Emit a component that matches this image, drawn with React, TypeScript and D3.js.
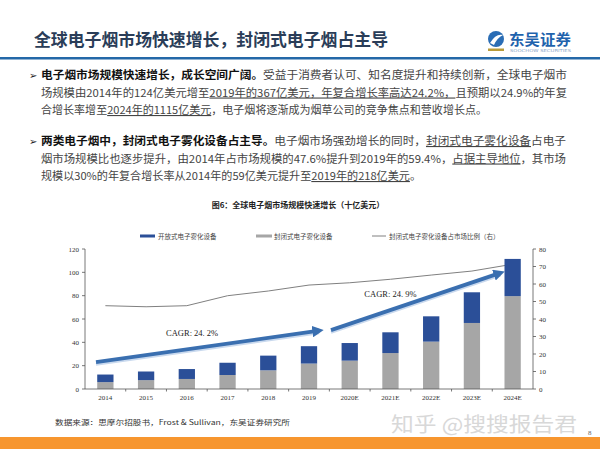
import React from "react";
import * as d3 from "d3";

// chart data (十亿美元 / %)
const years = ["2014", "2015", "2016", "2017", "2018", "2019", "2020E", "2021E", "2022E", "2023E", "2024E"];
const closedVals = [5.9, 7.6, 8.6, 12.0, 16.0, 21.8, 24.3, 30.8, 40.6, 56.6, 79.6];
const openVals = [6.5, 7.4, 8.5, 10.5, 12.6, 14.9, 15.1, 17.8, 21.7, 26.3, 31.9];
const closedShare = [47.6, 47.0, 47.6, 53.3, 56.0, 59.4, 60.7, 62.7, 65.1, 67.4, 71.3];
const leftTicks = [0, 20, 40, 60, 80, 100, 120];
const rightTicks = [0, 10, 20, 30, 40, 50, 60, 70, 80];
const legendLabels = ["开放式电子雾化设备", "封闭式电子雾化设备", "封闭式电子雾化设备占市场比例（右）"];

// CAGR arrows, in (category index, left-axis value)
const cagrArrows = [
  { label: "CAGR: 24. 2%", from: [-0.23, 23], to: [5.25, 50], at: [2.13, 48] },
  { label: "CAGR: 24. 9%", from: [5.54, 50.5], to: [9.7, 99.5], at: [7.0, 81.5] },
];

const CJK = "'Noto Sans CJK SC', sans-serif";
const SERIF = "'Liberation Serif', serif";

type Seg = { t: string; b?: boolean; u?: boolean };
type Line = { segs: Seg[]; len?: number };

const para1: Line[] = [
  { segs: [{ t: "电子烟市场规模快速增长，成长空间广阔。", b: true }, { t: "受益于消费者认可、知名度提升和持续创新，全球电子烟市" }], len: 526 },
  { segs: [{ t: "场规模由2014年的124亿美元增至" }, { t: "2019年的367亿美元，年复合增长率高达24.2%，", u: true }, { t: "且预期以24.9%的年复" }], len: 526 },
  { segs: [{ t: "合增长率增至" }, { t: "2024年的1115亿美元", u: true }, { t: "，电子烟将逐渐成为烟草公司的竞争焦点和营收增长点。" }], len: 446 },
];
const para2: Line[] = [
  { segs: [{ t: "两类电子烟中，封闭式电子雾化设备占主导。", b: true }, { t: "电子烟市场强劲增长的同时，" }, { t: "封闭式电子雾化设备", u: true }, { t: "占电子" }], len: 525 },
  { segs: [{ t: "烟市场规模比也逐步提升，由2014年占市场规模的47.6%提升到2019年的59.4%，" }, { t: "占据主导地位", u: true }, { t: "，其市场" }], len: 525 },
  { segs: [{ t: "规模以30%的年复合增长率从2014年的59亿美元提升至" }, { t: "2019年的218亿美元", u: true }, { t: "。" }], len: 380 },
];

function Paragraph({ lines, y0 }: { lines: Line[]; y0: number }) {
  return (
    <g>
      <text x={29} y={y0 + 4} fontSize={10} fontFamily="'DejaVu Sans', sans-serif" fill="#222">➢</text>
      {lines.map((ln, i) => (
        <text key={i} x={41} y={y0 + 4 + i * 17.5} fontSize={11} fontFamily={CJK} fill="#444"
          textLength={ln.len} lengthAdjust="spacingAndGlyphs">
          {ln.segs.map((s, j) => (
            <tspan key={j} fontWeight={s.b ? 700 : 400} fill={s.b ? "#111" : "#444"}
              style={s.u ? { textDecoration: "underline" } : undefined}>{s.t}</tspan>
          ))}
        </text>
      ))}
    </g>
  );
}

export default function App() {
  const x = d3.scaleBand().domain(years).range([85, 533]).paddingInner(0.6).paddingOuter(0.3);
  const bw = x.bandwidth();
  const cx = (yr: string) => (x(yr) as number) + bw / 2;
  const idx = d3.scaleLinear().domain([0, years.length - 1]).range([cx(years[0]), cx(years[years.length - 1])]);
  const yL = d3.scaleLinear().domain([0, 120]).range([389, 249]);
  const yR = d3.scaleLinear().domain([0, 80]).range([389, 249]);
  const shareLine = d3.line<number>().x((_, i) => cx(years[i])).y(d => yR(d));
  const step = x.step();

  return (
    <svg width={600} height={449} style={{ position: "absolute", left: 0, top: 0, background: "#fff" }}>
      <defs>
        <marker id="ah" viewBox="0 0 10 10" refX="6" refY="5" markerWidth="3" markerHeight="3" orient="auto">
          <path d="M0,0 L10,5 L0,10 z" fill="#3a6fb0" />
        </marker>
      </defs>

      {/* header */}
      <text x={34} y={46} fontSize={17} fontWeight={700} fontFamily={CJK} fill="#2a3d58" textLength={354}
        lengthAdjust="spacingAndGlyphs">全球电子烟市场快速增长，封闭式电子烟占主导</text>
      <circle cx={496} cy={39} r={8} fill="#2a6db5" />
      <path d="M490,43 Q496,33 503,35 Q497,38 494,45 z" fill="#fff" />
      <rect x={488} y={48.5} width={16} height={2.5} fill="#b89b3a" />
      <text x={509} y={45} fontSize={15} fontWeight={700} fontFamily={CJK} fill="#1f63ad" textLength={62}
        lengthAdjust="spacingAndGlyphs">东吴证券</text>
      <text x={510} y={52} fontSize={4} fontFamily="'DejaVu Sans', sans-serif" fill="#8aa5c8" textLength={61}
        lengthAdjust="spacingAndGlyphs">SOOCHOW SECURITIES</text>
      <rect x={0} y={57} width={600} height={2.5} fill="#2468a8" />

      <Paragraph lines={para1} y0={75} />
      <Paragraph lines={para2} y0={141} />

      {/* chart title + legend */}
      <text x={298} y={208} textAnchor="middle" fontSize={8} fontWeight={700} fontFamily={CJK} fill="#222">
        图6：全球电子烟市场规模快速增长（十亿美元）</text>
      <g fontSize={6.5} fontFamily={CJK} fill="#444">
        <rect x={140} y={234.5} width={15} height={3} fill="#2b4f98" />
        <text x={158} y={238.5}>{legendLabels[0]}</text>
        <rect x={256} y={234.5} width={16} height={3} fill="#a6a6a6" />
        <text x={274} y={238.5}>{legendLabels[1]}</text>
        <line x1={372} x2={386} y1={236} y2={236} stroke="#808080" strokeWidth={1} />
        <text x={389} y={238.5}>{legendLabels[2]}</text>
      </g>

      {/* share line (behind bars) */}
      <path d={shareLine(closedShare) || ""} fill="none" stroke="#808080" strokeWidth={1} />

      {/* stacked bars */}
      {years.map((yr, i) => (
        <g key={yr}>
          <rect x={x(yr)} y={yL(closedVals[i])} width={bw} height={yL(0) - yL(closedVals[i])} fill="#a6a6a6" />
          <rect x={x(yr)} y={yL(closedVals[i] + openVals[i])} width={bw}
            height={yL(closedVals[i]) - yL(closedVals[i] + openVals[i])} fill="#2b4f98" />
        </g>
      ))}

      {/* CAGR arrows */}
      {cagrArrows.map((a, i) => (
        <g key={i}>
          <line x1={idx(a.from[0])} y1={yL(a.from[1]) + 2.2} x2={idx(a.to[0])} y2={yL(a.to[1]) + 2.2}
            stroke="#c9d9ee" strokeWidth={3} />
          <line x1={idx(a.from[0])} y1={yL(a.from[1])} x2={idx(a.to[0])} y2={yL(a.to[1])}
            stroke="#3a6fb0" strokeWidth={3.8} markerEnd="url(#ah)" />
          <text x={idx(a.at[0])} y={yL(a.at[1]) + 3} textAnchor="middle" fontSize={8.5} fontFamily={SERIF}
            fill="#222">{a.label}</text>
        </g>
      ))}

      {/* axes */}
      <g stroke="#555" strokeWidth={0.8}>
        <line x1={85} x2={85} y1={249} y2={389} />
        <line x1={533} x2={533} y1={249} y2={389} />
        <line x1={85} x2={533} y1={389} y2={389} />
        {leftTicks.map(t => <line key={"l" + t} x1={82} x2={85} y1={yL(t)} y2={yL(t)} />)}
        {rightTicks.map(t => <line key={"r" + t} x1={533} x2={536} y1={yR(t)} y2={yR(t)} />)}
        {years.map((yr, i) => i > 0 ? (
          <line key={"t" + yr} x1={(x(yr) as number) - (step - bw) / 2} x2={(x(yr) as number) - (step - bw) / 2}
            y1={389} y2={391.5} />
        ) : null)}
      </g>
      <g fontSize={7} fontFamily={SERIF} fill="#333">
        {leftTicks.map(t => <text key={"l" + t} x={79} y={yL(t) + 2.5} textAnchor="end">{t}</text>)}
        {rightTicks.map(t => <text key={"r" + t} x={539} y={yR(t) + 2.5}>{t}</text>)}
        {years.map(yr => <text key={yr} x={cx(yr)} y={400} textAnchor="middle">{yr}</text>)}
      </g>

      {/* footer */}
      <text x={55} y={425} fontSize={7} fontFamily={CJK} fill="#333" textLength={235} lengthAdjust="spacingAndGlyphs">
        数据来源：思摩尔招股书，Frost &amp; Sullivan，东吴证券研究所</text>
      <text x={391} y={432} fontSize={20} fontFamily={CJK} fill="#d8d8d8" textLength={186}
        lengthAdjust="spacingAndGlyphs">知乎 @搜搜报告君</text>
      <text x={588} y={435} fontSize={7} fontFamily={SERIF} fill="#666">8</text>
      <rect x={0} y={437} width={600} height={12} fill="#f7962f" />
    </svg>
  );
}
